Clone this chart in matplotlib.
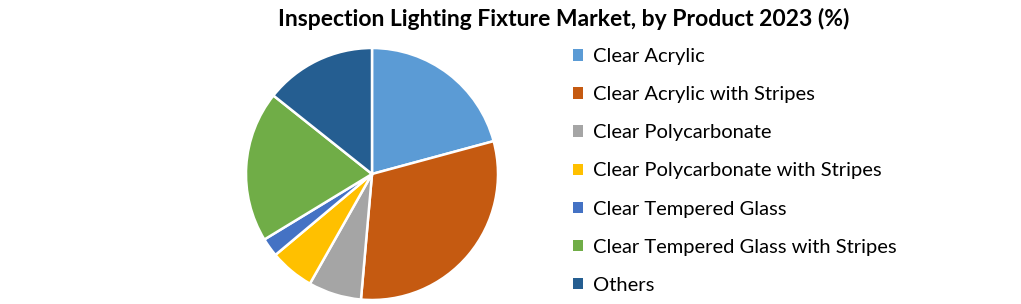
import matplotlib
matplotlib.use("Agg")
import matplotlib.pyplot as plt
from matplotlib.patches import Patch

categories = [
    "Clear Acrylic",
    "Clear Acrylic with Stripes",
    "Clear Polycarbonate",
    "Clear Polycarbonate with Stripes",
    "Clear Tempered Glass",
    "Clear Tempered Glass with Stripes",
    "Others",
]
shares = [20.8, 30.6, 6.8, 5.7, 2.4, 19.4, 14.3]
colors = ["#5B9BD5", "#C55A11", "#A5A5A5", "#FFC000", "#4472C4", "#70AD47", "#255E91"]
title = "Inspection Lighting Fixture Market, by Product 2023 (%)"

W, H = 1021, 304
fig = plt.figure(figsize=(W / 100, H / 100), dpi=100)
fig.patch.set_facecolor("white")

cx, cy, r = 372, 174, 126
ax = fig.add_axes([(cx - r) / W, (H - cy - r) / H, 2 * r / W, 2 * r / H])
ax.pie(shares, colors=colors, startangle=90, counterclock=False,
       wedgeprops=dict(edgecolor="white", linewidth=1.8))
ax.set_xlim(-1, 1)
ax.set_ylim(-1, 1)
ax.set_aspect("equal")
ax.axis("off")

fig.text(564 / W, 1 - 19 / H, title, ha="center", va="center",
         fontsize=16.5, fontweight="bold", family="Lato")

handles = [Patch(facecolor=c, edgecolor="none") for c in colors]
fig.legend(handles, categories, loc="upper left",
           bbox_to_anchor=(573 / W, 1 - 48 / H), frameon=False,
           prop=dict(family="Lato", size=14.5),
           handlelength=0.5, handleheight=0.5, handletextpad=0.5,
           labelspacing=1.05, borderaxespad=0, borderpad=0)

fig.savefig("out.png", dpi=100, facecolor="white")
